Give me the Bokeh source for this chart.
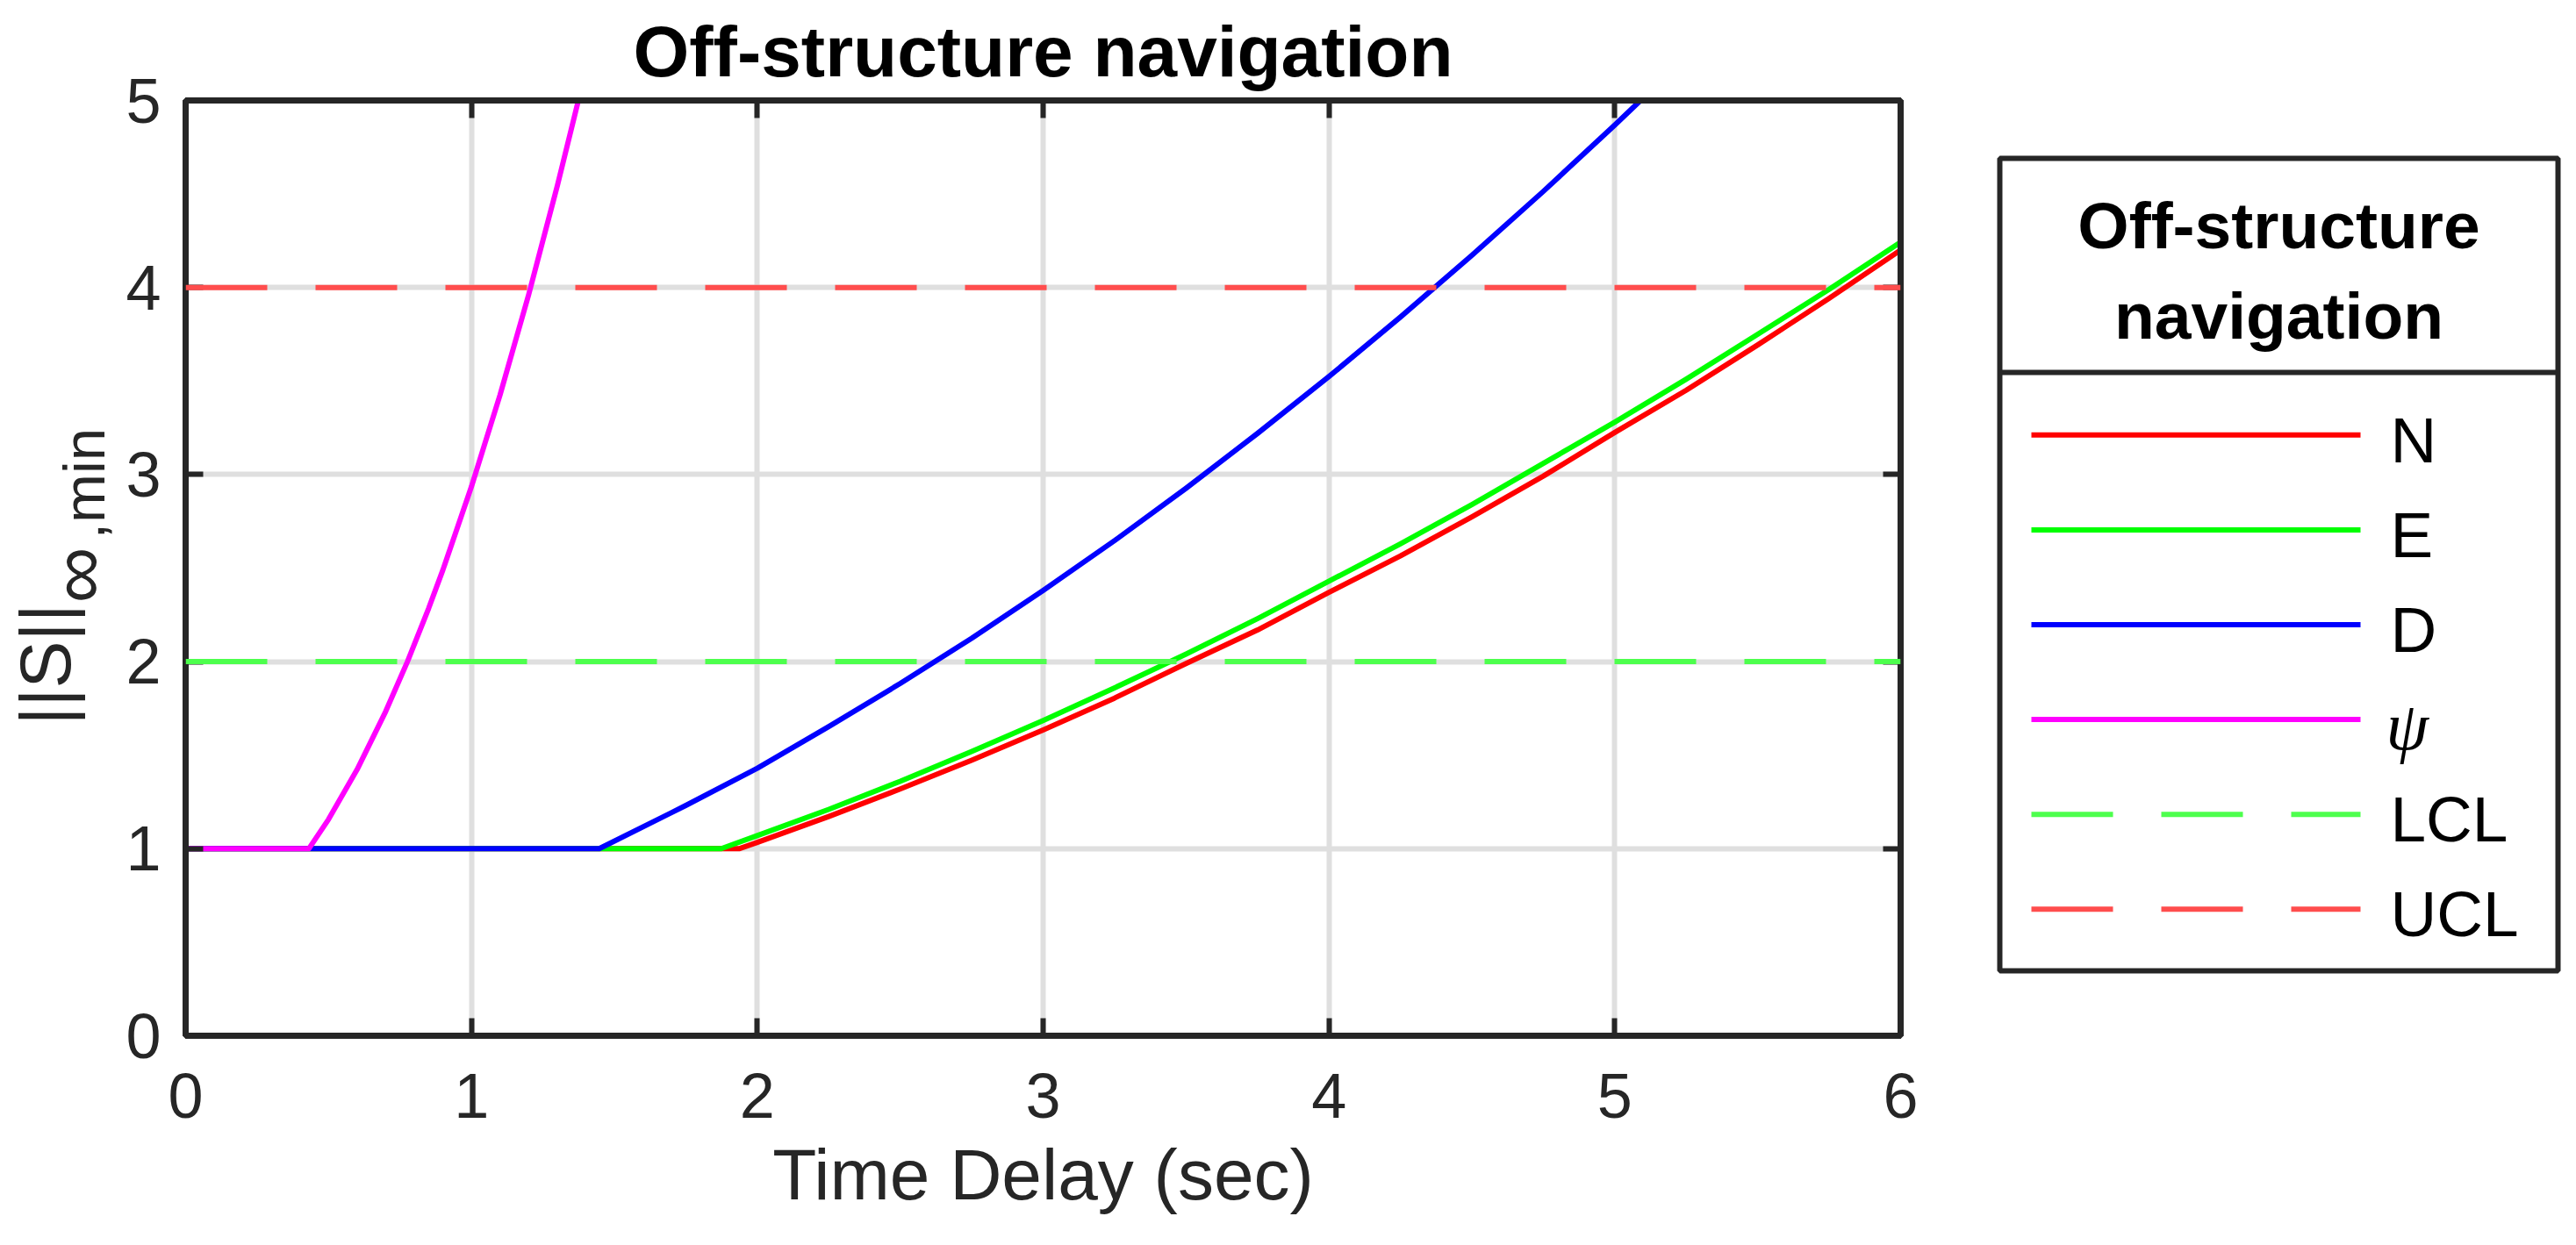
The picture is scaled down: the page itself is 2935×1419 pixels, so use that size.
import math
from bokeh.plotting import figure
from bokeh.models import Range1d, LinearAxis, FixedTicker, Span
from bokeh.layouts import row
from bokeh.embed import file_html
from bokeh.resources import INLINE
from bokeh.core.properties import value

# ---------------- data ----------------
title_text = "Off-structure navigation"
legend_title_lines = ["Off-structure", "navigation"]
x_label = "Time Delay (sec)"
y_label_main = "||S||"
y_label_sub_parts = ["\u221e", ",min"]
x_ticks = [0, 1, 2, 3, 4, 5, 6]
y_ticks = [0, 1, 2, 3, 4, 5]

t_N = [0, 1.936, 2.0, 2.25, 2.5, 2.75, 3.0, 3.25, 3.5, 3.75, 4.0, 4.25, 4.5, 4.75, 5.0, 5.25, 5.5, 5.75, 6.0]
N = [1, 1, 1.034, 1.172, 1.319, 1.473, 1.635, 1.805, 1.99, 2.169, 2.37, 2.565, 2.774, 2.992, 3.225, 3.451, 3.693, 3.942, 4.20]

t_E = [0, 1.874, 2.0, 2.25, 2.5, 2.75, 3.0, 3.25, 3.5, 3.75, 4.0, 4.25, 4.5, 4.75, 5.0, 5.25, 5.5, 5.75, 6.0]
E = [1, 1, 1.07, 1.21, 1.36, 1.52, 1.685, 1.86, 2.04, 2.23, 2.43, 2.63, 2.84, 3.06, 3.28, 3.51, 3.75, 3.99, 4.243]

t_D = [0, 1.447, 1.75, 2.0, 2.25, 2.5, 2.75, 3.0, 3.25, 3.5, 3.75, 4.0, 4.25, 4.5, 4.75, 5.0, 5.09]
D = [1, 1, 1.231, 1.43, 1.653, 1.883, 2.125, 2.38, 2.647, 2.927, 3.22, 3.524, 3.842, 4.172, 4.514, 4.869, 5.0]

t_P = [0, 0.431, 0.5, 0.6, 0.7, 0.776, 0.85, 0.9, 1.0, 1.1, 1.2, 1.3, 1.374]
P = [1, 1, 1.157, 1.423, 1.734, 2.0, 2.284, 2.49, 2.936, 3.426, 3.961, 4.542, 5.0]

LCL = 2
UCL = 4

series_labels = ["N", "E", "D", "\u03c8", "LCL", "UCL"]
series_colors = ["#ff0000", "#00ff00", "#0000ff", "#ff00ff", "#4dff4d", "#ff4d4d"]
series_dashes = ["solid", "solid", "solid", "solid", "93 55", "93 55"]

# ---------------- style / layout ----------------
FONT = "Liberation Sans"
AX = "#262626"
GRID = "#dfdfdf"
LW = 6
H = 1415
BT = 114
FH = 1066
BB = H - BT - FH
YLW = 140
MW = 2100
LGW = 2930 - YLW - MW
FRAME_L = 71
FRAME_W = 1954

# ---------- y label panel ----------
yl = figure(width=YLW, height=H, output_backend="svg", toolbar_location=None,
            x_range=Range1d(0, YLW), y_range=Range1d(0, FH),
            x_axis_location=None, y_axis_location=None,
            min_border_left=0, min_border_right=0, min_border_top=BT, min_border_bottom=BB)
yl.grid.visible = False
yl.outline_line_color = None
yl.text(x=[51], y=[354], text=[y_label_main], angle=math.pi / 2,
        text_font=value(FONT), text_font_size="81px", text_color=AX,
        text_align="left", text_baseline="middle")
yl.text(x=[87], y=[493], text=[y_label_sub_parts[0]], angle=math.pi / 2,
        text_font=value(FONT), text_font_size="90px", text_color=AX,
        text_align="left", text_baseline="middle")
yl.text(x=[95], y=[566], text=[y_label_sub_parts[1]], angle=math.pi / 2,
        text_font=value(FONT), text_font_size="67px", text_color=AX,
        text_align="left", text_baseline="middle")

# ---------- main plot ----------
p = figure(width=MW, height=H, output_backend="svg", toolbar_location=None,
           x_range=Range1d(0, 6), y_range=Range1d(0, 5),
           min_border_left=FRAME_L, min_border_right=MW - FRAME_L - FRAME_W,
           min_border_top=BT, min_border_bottom=BB)
p.background_fill_color = "white"
p.border_fill_color = "white"
p.outline_line_color = AX
p.outline_line_width = 7

p.title.text = title_text
p.title.align = "center"
p.title.text_font = FONT
p.title.text_font_size = "82px"
p.title.text_font_style = "bold"
p.title.text_color = "black"
p.title.standoff = 21

bottom_ax = p.below[0]
left_ax = p.left[0]
top_ax = LinearAxis()
right_ax = LinearAxis()
p.add_layout(top_ax, "above")
p.add_layout(right_ax, "right")

for ax, ticks in [(bottom_ax, x_ticks), (top_ax, x_ticks), (left_ax, y_ticks), (right_ax, y_ticks)]:
    ax.ticker = FixedTicker(ticks=ticks)
    ax.axis_line_color = AX
    ax.axis_line_width = 7
    ax.major_tick_in = 20
    ax.major_tick_out = 0
    ax.major_tick_line_color = AX
    ax.major_tick_line_width = 6
    ax.minor_tick_line_color = None
    ax.major_label_text_font = FONT
    ax.major_label_text_font_size = "72px"
    ax.major_label_text_color = AX

# box-style axes on top / right: ticks only, no labels drawn
for ax in (top_ax, right_ax):
    ax.major_label_text_font_size = "1px"
    ax.major_label_text_color = None
    ax.major_label_standoff = 0

bottom_ax.major_label_standoff = 43
left_ax.major_label_standoff = 28
bottom_ax.axis_label = x_label
bottom_ax.axis_label_text_font = FONT
bottom_ax.axis_label_text_font_size = "82px"
bottom_ax.axis_label_text_font_style = "normal"
bottom_ax.axis_label_text_color = AX
bottom_ax.axis_label_standoff = 16

p.xgrid.ticker = FixedTicker(ticks=x_ticks)
p.ygrid.ticker = FixedTicker(ticks=y_ticks)
p.grid.grid_line_color = GRID
p.grid.grid_line_width = LW

p.line(t_N, N, line_color=series_colors[0], line_width=LW, line_join="round")
p.line(t_E, E, line_color=series_colors[1], line_width=LW, line_join="round")
p.line(t_D, D, line_color=series_colors[2], line_width=LW, line_join="round")
p.line(t_P, P, line_color=series_colors[3], line_width=LW, line_join="round")
p.add_layout(Span(location=LCL, dimension="width", line_color=series_colors[4],
                  line_width=LW, line_dash=series_dashes[4]))
p.add_layout(Span(location=UCL, dimension="width", line_color=series_colors[5],
                  line_width=LW, line_dash=series_dashes[5]))

# ---------- legend panel ----------
lg = figure(width=LGW, height=H, output_backend="svg", toolbar_location=None,
            x_range=Range1d(0, LGW), y_range=Range1d(FH, 0),
            x_axis_location=None, y_axis_location=None,
            min_border_left=0, min_border_right=0, min_border_top=BT, min_border_bottom=BB)
lg.grid.visible = False
lg.outline_line_color = None
lg.background_fill_color = "white"
lg.border_fill_color = "white"

box_l, box_r, box_t, box_b = 38, 674, 66, 992
lg.quad(left=[box_l], right=[box_r], top=[box_t], bottom=[box_b],
        fill_color="white", line_color=AX, line_width=6)
lg.segment(x0=[box_l], y0=[310], x1=[box_r], y1=[310], line_color=AX, line_width=6)
lg.text(x=[(box_l + box_r) / 2] * 2, y=[142, 245], text=legend_title_lines,
        text_font=value(FONT), text_font_size="75px", text_font_style="bold",
        text_color="black", text_align="center", text_baseline="middle")

pitch = 108.1
y0 = 381.3
item_y = [y0 + i * pitch for i in range(len(series_labels))]
for yy, c, d in zip(item_y, series_colors, series_dashes):
    lg.line([74, 449], [yy, yy], line_color=c, line_width=LW, line_dash=d)

psi_i = series_labels.index("\u03c8")
plain_idx = [i for i in range(len(series_labels)) if i != psi_i]
lg.text(x=[483] * len(plain_idx), y=[item_y[i] + 5.5 for i in plain_idx],
        text=[series_labels[i] for i in plain_idx],
        text_font=value(FONT), text_font_size="73px", text_color="black",
        text_align="left", text_baseline="middle")
lg.text(x=[478], y=[item_y[psi_i] + 7], text=[series_labels[psi_i]],
        text_font=value("Liberation Serif"), text_font_size="78px", text_font_style="italic",
        text_color="black", text_align="left", text_baseline="middle")

layout = row(yl, p, lg)
open("out.html", "w").write(file_html(layout, INLINE))
